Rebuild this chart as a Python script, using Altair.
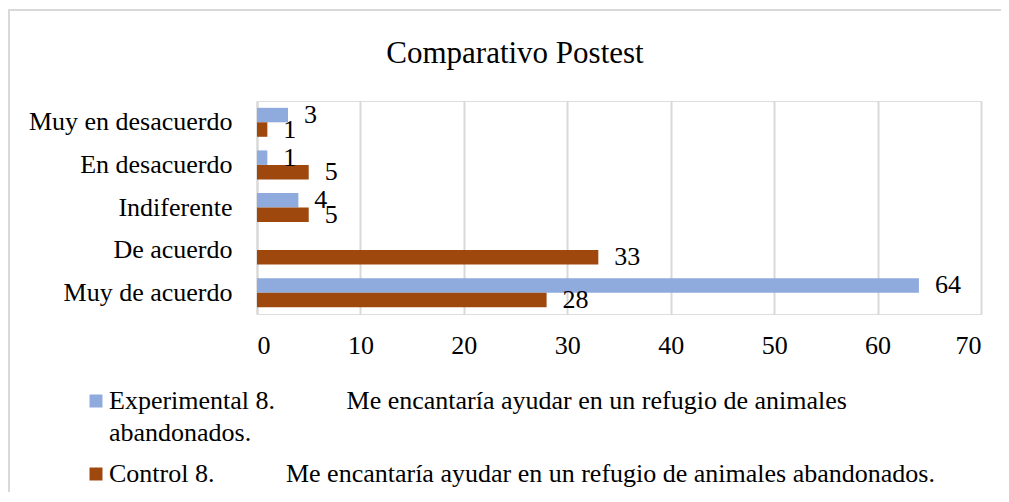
import altair as alt
import pandas as pd

# ---- data ----
categorias = ["Muy en desacuerdo", "En desacuerdo", "Indiferente", "De acuerdo", "Muy de acuerdo"]
experimental = [3, 1, 4, 0, 64]
control = [1, 5, 5, 33, 28]
series = ["Experimental", "Control"]
colores = ["#8FAADC", "#9E480E"]
ticks_x = [0, 10, 20, 30, 40, 50, 60, 70]
pregunta = "Me encantaría ayudar en un refugio de animales abandonados."

FONT = "Liberation Serif"
GRID = "#d9d9d9"
NB = "\u00a0" * 11

df = pd.DataFrame({
    "categoria": categorias * 2,
    "serie": [series[0]] * len(categorias) + [series[1]] * len(categorias),
    "valor": experimental + control,
})

exp_lines = ["Experimental 8." + NB + "Me encantaría ayudar en un refugio de animales", "abandonados."]
ctrl_line = "Control 8." + NB + pregunta
label_expr = (
    "datum.label == 'Experimental' ? ['" + exp_lines[0] + "', '" + exp_lines[1] + "'] : '" + ctrl_line + "'"
)

y_enc = alt.Y(
    "categoria:N",
    sort=categorias,
    scale=alt.Scale(paddingInner=0.32, paddingOuter=0.16),
    axis=alt.Axis(
        title=None, ticks=False, labelFont=FONT, labelFontSize=26, labelColor="#000000",
        labelPadding=25, labelLimit=400, domainColor=GRID, domainWidth=2,
    ),
)
yoff_enc = alt.YOffset("serie:N", sort=series, scale=alt.Scale(paddingInner=0, paddingOuter=0))

base = alt.Chart(df).encode(y=y_enc, yOffset=yoff_enc)

bars = base.mark_bar().encode(
    x=alt.X(
        "valor:Q",
        scale=alt.Scale(domain=[0, 70], nice=False),
        axis=alt.Axis(
            values=ticks_x, title=None, grid=True, gridColor=GRID, gridWidth=2,
            domain=False, ticks=False, labelFont=FONT, labelFontSize=26,
            labelColor="#000000", labelPadding=18,
        ),
    ),
    color=alt.Color(
        "serie:N",
        scale=alt.Scale(domain=series, range=colores),
        legend=alt.Legend(
            title=None, orient="none", legendX=-174, legendY=287, direction="vertical",
            labelExpr=label_expr, labelFont=FONT, labelFontSize=26, labelColor="#000000",
            symbolType="square", symbolSize=169, symbolStrokeWidth=0, labelOffset=0,
            rowPadding=15, labelLimit=2000,
        ),
    ),
)

labels = base.mark_text(
    align="left", baseline="middle", dx=16, font=FONT, fontSize=26, color="#000000"
).encode(
    x=alt.X("valor:Q"),
    text=alt.Text("valor:Q"),
).transform_filter("datum.valor > 0")

border = alt.Chart(pd.DataFrame({"b": [0]})).mark_rect(
    fillOpacity=0, stroke=GRID, strokeWidth=2
).encode(
    x=alt.value(-248), x2=alt.value(800), y=alt.value(-91), y2=alt.value(600)
)

chart = alt.layer(border, bars, labels).properties(
    width=724,
    height=213,
    padding={"left": 249, "top": 93, "right": 20, "bottom": 178},
    autosize=alt.AutoSizeParams(type="none"),
    title=alt.TitleParams(
        "Comparativo Postest", font=FONT, fontSize=31, fontWeight="normal",
        color="#000000", anchor="middle", dx=-104, dy=93, offset=32,
    ),
).configure_view(stroke=None).configure(
    background="#ffffff",
    style={"guide-label": {"lineHeight": 32}},
)

chart.save("out.html", embed_options={"renderer": "svg", "actions": False})
